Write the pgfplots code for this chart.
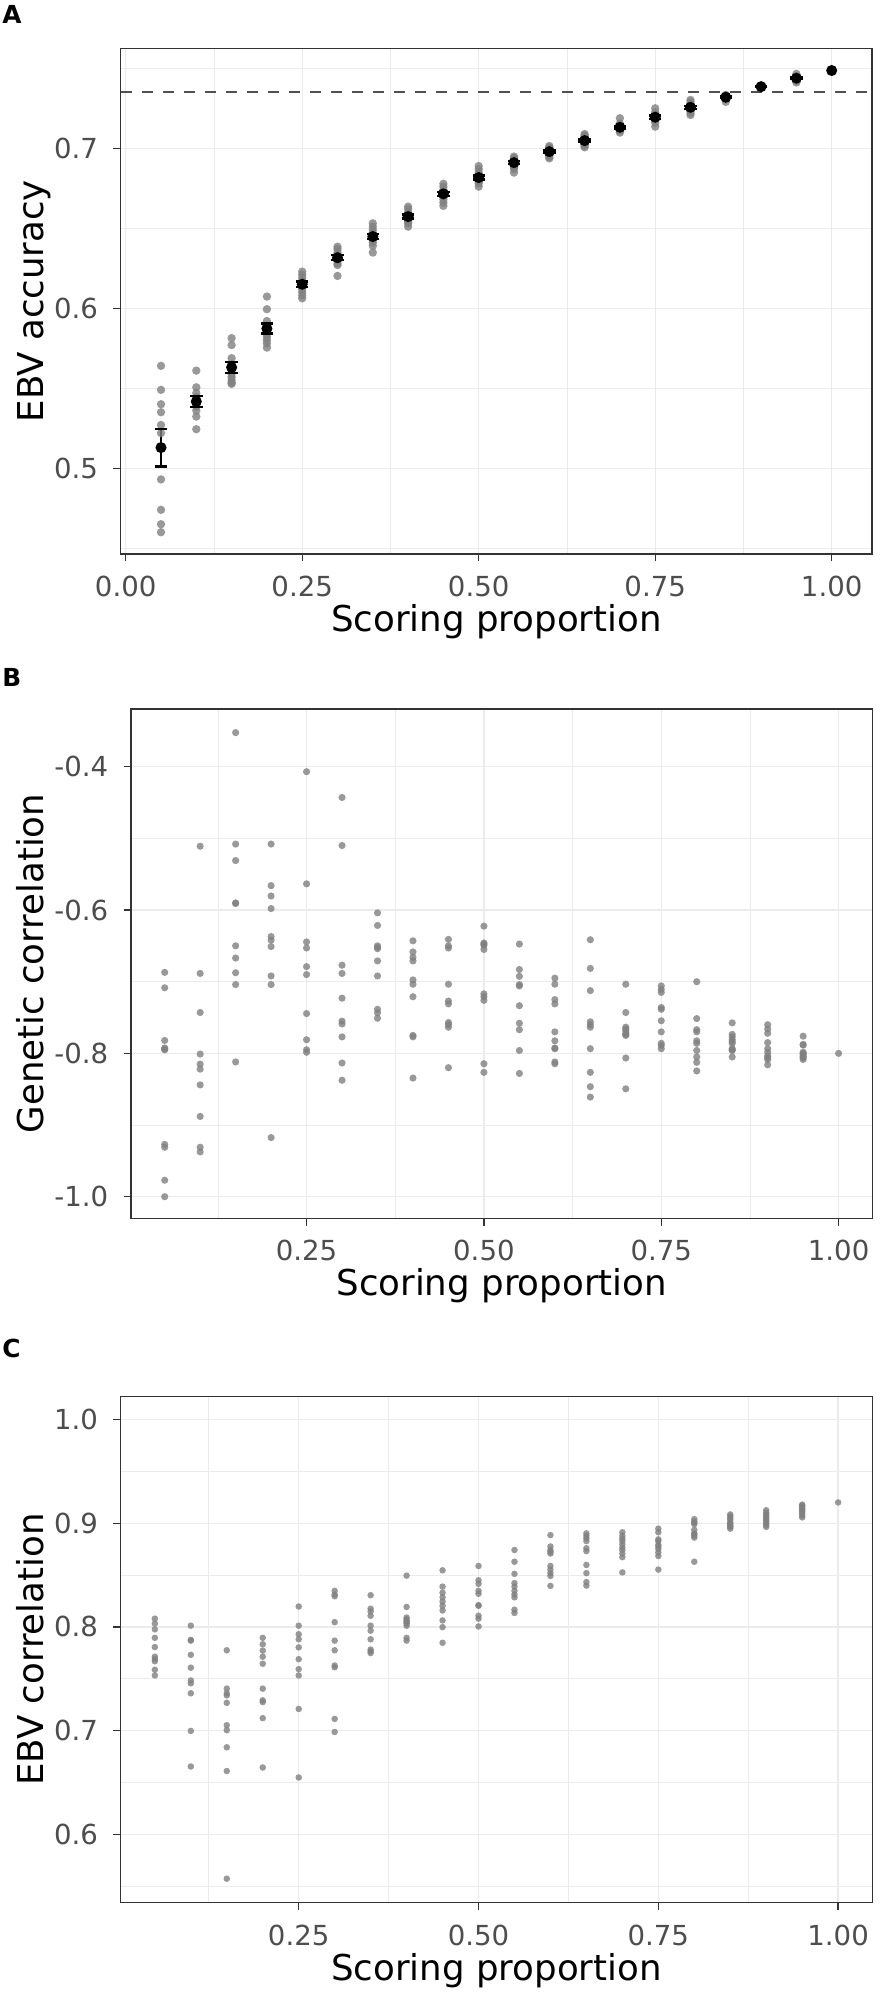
\documentclass[border=0pt]{standalone}
\usepackage{fontspec}
\setmainfont{DejaVu Sans}
\usepackage{pgfplots}
\usepackage{pgfplotstable}
\pgfplotsset{compat=1.18}
\definecolor{g20}{HTML}{333333}
\definecolor{g30}{HTML}{4D4D4D}
\definecolor{g92}{HTML}{EBEBEB}
\definecolor{dashcol}{HTML}{505050}

% Panel A summary: x, mean, SE (scoring proportions with replicates)
\pgfplotstableread{
x m se
0.05 0.5129 0.0118
0.10 0.5417 0.0033
0.15 0.5630 0.0034
0.20 0.5873 0.0031
0.25 0.6150 0.0018
0.30 0.6316 0.0016
0.35 0.6448 0.0017
0.40 0.6573 0.0012
0.45 0.6715 0.0013
0.50 0.6817 0.0012
0.55 0.6910 0.0010
0.60 0.6979 0.0008
0.65 0.7048 0.0008
0.70 0.7131 0.0008
0.75 0.7194 0.0010
0.80 0.7256 0.0010
0.85 0.7319 0.0004
0.90 0.7385 0.0002
0.95 0.7438 0.0005
}\summaryA

\pgfplotsset{
  ggbase/.style={
    scale only axis, anchor=south west,
    axis line style={draw=g20, line width=0.33pt},
    tick pos=left, tick align=outside,
    major tick length=1.83pt, minor tick length=0pt,
    every tick/.style={draw=g20, line width=0.33pt},
    grid=both,
    major grid style={draw=g92, line width=0.35pt},
    minor grid style={draw=g92, line width=0.18pt},
    ticklabel style={font=\fontsize{6.9}{8}\selectfont, text=g30, inner sep=0pt},
    xticklabel style={yshift=-3.5pt},
    yticklabel style={xshift=-3.65pt},
  },
  gpts/.style={only marks, mark=*, mark size=#1,
    mark options={fill=black!50, fill opacity=0.8, draw opacity=0}},
}

\begin{document}
\begin{tikzpicture}[x=1pt,y=1pt]
% ---------------- Panel A ----------------
\begin{axis}[ggbase,
  at={(30.175pt,361.5pt)}, width=187.825pt, height=126.425pt,
  xmin=-0.0071, xmax=1.0571, ymin=0.4464, ymax=0.7625,
  xtick={0,0.25,0.5,0.75,1}, xticklabels={0.00,0.25,0.50,0.75,1.00},
  minor xtick={0.125,0.375,0.625,0.875},
  ytick={0.5,0.6,0.7}, yticklabels={0.5,0.6,0.7},
  minor ytick={0.45,0.55,0.65,0.75},
]
\addplot[dashcol, line width=0.55pt, dash pattern=on 2.75pt off 2.5pt] coordinates {(-0.0071,0.735) (1.0571,0.735)};
\addplot[gpts=1.05pt] coordinates {
(0.05,0.564)(0.05,0.549)(0.05,0.540)(0.05,0.535)(0.05,0.527)(0.05,0.522)(0.05,0.493)(0.05,0.474)(0.05,0.465)(0.05,0.460)
(0.10,0.561)(0.10,0.5506)(0.10,0.547)(0.10,0.5445)(0.10,0.5427)(0.10,0.540)(0.10,0.5385)(0.10,0.536)(0.10,0.5323)(0.10,0.5244)
(0.15,0.5813)(0.15,0.577)(0.15,0.5688)(0.15,0.565)(0.15,0.562)(0.15,0.559)(0.15,0.557)(0.15,0.555)(0.15,0.5535)(0.15,0.5527)
(0.20,0.6073)(0.20,0.5994)(0.20,0.592)(0.20,0.589)(0.20,0.586)(0.20,0.584)(0.20,0.582)(0.20,0.580)(0.20,0.578)(0.20,0.5754)
(0.25,0.6229)(0.25,0.621)(0.25,0.619)(0.25,0.617)(0.25,0.616)(0.25,0.614)(0.25,0.612)(0.25,0.610)(0.25,0.608)(0.25,0.6062)
(0.30,0.6385)(0.30,0.637)(0.30,0.635)(0.30,0.633)(0.30,0.632)(0.30,0.631)(0.30,0.630)(0.30,0.628)(0.30,0.627)(0.30,0.6202)
(0.35,0.6531)(0.35,0.651)(0.35,0.649)(0.35,0.647)(0.35,0.645)(0.35,0.644)(0.35,0.643)(0.35,0.641)(0.35,0.639)(0.35,0.6348)
(0.40,0.6635)(0.40,0.662)(0.40,0.660)(0.40,0.658)(0.40,0.657)(0.40,0.656)(0.40,0.655)(0.40,0.654)(0.40,0.653)(0.40,0.651)
(0.45,0.6778)(0.45,0.676)(0.45,0.674)(0.45,0.673)(0.45,0.672)(0.45,0.671)(0.45,0.670)(0.45,0.668)(0.45,0.666)(0.45,0.664)
(0.50,0.6889)(0.50,0.687)(0.50,0.685)(0.50,0.683)(0.50,0.682)(0.50,0.681)(0.50,0.680)(0.50,0.679)(0.50,0.678)(0.50,0.676)
(0.55,0.6948)(0.55,0.694)(0.55,0.693)(0.55,0.692)(0.55,0.691)(0.55,0.690)(0.55,0.689)(0.55,0.688)(0.55,0.687)(0.55,0.6848)
(0.60,0.7014)(0.60,0.7005)(0.60,0.6995)(0.60,0.6985)(0.60,0.698)(0.60,0.697)(0.60,0.6965)(0.60,0.6955)(0.60,0.6945)(0.60,0.6937)
(0.65,0.7089)(0.65,0.708)(0.65,0.707)(0.65,0.706)(0.65,0.705)(0.65,0.704)(0.65,0.703)(0.65,0.702)(0.65,0.7015)(0.65,0.7006)
(0.70,0.7188)(0.70,0.7155)(0.70,0.714)(0.70,0.7135)(0.70,0.713)(0.70,0.7125)(0.70,0.712)(0.70,0.7115)(0.70,0.711)(0.70,0.7098)
(0.75,0.725)(0.75,0.7225)(0.75,0.721)(0.75,0.720)(0.75,0.7195)(0.75,0.719)(0.75,0.7185)(0.75,0.7175)(0.75,0.716)(0.75,0.7135)
(0.80,0.7302)(0.80,0.729)(0.80,0.7275)(0.80,0.7265)(0.80,0.7255)(0.80,0.725)(0.80,0.7245)(0.80,0.7235)(0.80,0.722)(0.80,0.7208)
(0.85,0.7333)(0.85,0.733)(0.85,0.7325)(0.85,0.732)(0.85,0.732)(0.85,0.7318)(0.85,0.7315)(0.85,0.731)(0.85,0.7305)(0.85,0.729)
(0.90,0.739)(0.90,0.7389)(0.90,0.7388)(0.90,0.7387)(0.90,0.7386)(0.90,0.7385)(0.90,0.7384)(0.90,0.7383)(0.90,0.7381)(0.90,0.7379)
(0.95,0.7465)(0.95,0.745)(0.95,0.7445)(0.95,0.744)(0.95,0.7438)(0.95,0.7435)(0.95,0.743)(0.95,0.7428)(0.95,0.742)(0.95,0.7411)
(1.00,0.7486)
};
% vertical error bars (mean +- SE)
\addplot[only marks, mark=*, mark size=0.01pt, black,
  error bars/.cd, y dir=both, y explicit, error mark=none,
  error bar style={line width=0.6pt, draw=black}]
  table[x=x, y=m, y error=se] {\summaryA};
% caps
\addplot[only marks, mark=-, mark size=1.55pt, mark options={line width=0.6pt, black}]
  table[x=x, y expr=\thisrow{m}+\thisrow{se}] {\summaryA};
\addplot[only marks, mark=-, mark size=1.55pt, mark options={line width=0.6pt, black}]
  table[x=x, y expr=\thisrow{m}-\thisrow{se}] {\summaryA};
% means
\addplot[only marks, mark=*, black, mark size=1.17pt] table[x=x, y=m] {\summaryA};
\addplot[only marks, mark=*, black, mark size=1.17pt] coordinates {(1.00,0.7486)};
\end{axis}

% ---------------- Panel B ----------------
\begin{axis}[ggbase,
  at={(32.75pt,195.425pt)}, width=185.325pt, height=127.325pt,
  xmin=0.0025, xmax=1.0475, ymin=-1.0301, ymax=-0.3195,
  xtick={0.25,0.5,0.75,1}, xticklabels={0.25,0.50,0.75,1.00},
  minor xtick={0.125,0.375,0.625,0.875},
  ytick={-1,-0.8,-0.6,-0.4}, yticklabels={-1.0,-0.8,-0.6,-0.4},
  minor ytick={-0.9,-0.7,-0.5},
]
\addplot[gpts=0.9pt] coordinates {
(0.05,-0.687)(0.05,-0.7085)(0.05,-0.782)(0.05,-0.7925)(0.05,-0.794)(0.05,-0.795)(0.05,-0.927)(0.05,-0.931)(0.05,-0.977)(0.05,-1.0)
(0.10,-0.511)(0.10,-0.6885)(0.10,-0.743)(0.10,-0.801)(0.10,-0.815)(0.10,-0.822)(0.10,-0.844)(0.10,-0.888)(0.10,-0.931)(0.10,-0.9375)
(0.15,-0.3525)(0.15,-0.508)(0.15,-0.531)(0.15,-0.590)(0.15,-0.591)(0.15,-0.650)(0.15,-0.667)(0.15,-0.6875)(0.15,-0.704)(0.15,-0.812)
(0.20,-0.508)(0.20,-0.566)(0.20,-0.5805)(0.20,-0.598)(0.20,-0.637)(0.20,-0.642)(0.20,-0.651)(0.20,-0.692)(0.20,-0.704)(0.20,-0.9175)
(0.25,-0.407)(0.25,-0.5635)(0.25,-0.6445)(0.25,-0.653)(0.25,-0.679)(0.25,-0.690)(0.25,-0.7445)(0.25,-0.781)(0.25,-0.795)(0.25,-0.7985)
(0.30,-0.443)(0.30,-0.510)(0.30,-0.677)(0.30,-0.6885)(0.30,-0.723)(0.30,-0.755)(0.30,-0.759)(0.30,-0.777)(0.30,-0.8135)(0.30,-0.8375)
(0.35,-0.604)(0.35,-0.6215)(0.35,-0.650)(0.35,-0.652)(0.35,-0.654)(0.35,-0.671)(0.35,-0.692)(0.35,-0.7385)(0.35,-0.7435)(0.35,-0.751)
(0.40,-0.643)(0.40,-0.6585)(0.40,-0.666)(0.40,-0.671)(0.40,-0.6975)(0.40,-0.7035)(0.40,-0.721)(0.40,-0.775)(0.40,-0.777)(0.40,-0.8345)
(0.45,-0.641)(0.45,-0.650)(0.45,-0.653)(0.45,-0.7035)(0.45,-0.727)(0.45,-0.731)(0.45,-0.757)(0.45,-0.760)(0.45,-0.7635)(0.45,-0.820)
(0.50,-0.6225)(0.50,-0.646)(0.50,-0.6475)(0.50,-0.649)(0.50,-0.655)(0.50,-0.717)(0.50,-0.721)(0.50,-0.726)(0.50,-0.8145)(0.50,-0.8265)
(0.55,-0.6475)(0.55,-0.683)(0.55,-0.6925)(0.55,-0.704)(0.55,-0.706)(0.55,-0.7335)(0.55,-0.758)(0.55,-0.767)(0.55,-0.796)(0.55,-0.828)
(0.60,-0.695)(0.60,-0.7035)(0.60,-0.725)(0.60,-0.731)(0.60,-0.770)(0.60,-0.7825)(0.60,-0.7925)(0.60,-0.7935)(0.60,-0.812)(0.60,-0.8145)
(0.65,-0.6415)(0.65,-0.6815)(0.65,-0.7125)(0.65,-0.756)(0.65,-0.760)(0.65,-0.7635)(0.65,-0.7935)(0.65,-0.8265)(0.65,-0.8465)(0.65,-0.861)
(0.70,-0.7035)(0.70,-0.743)(0.70,-0.7635)(0.70,-0.766)(0.70,-0.7685)(0.70,-0.772)(0.70,-0.7735)(0.70,-0.775)(0.70,-0.8065)(0.70,-0.8495)
(0.75,-0.706)(0.75,-0.711)(0.75,-0.715)(0.75,-0.736)(0.75,-0.7385)(0.75,-0.7545)(0.75,-0.770)(0.75,-0.786)(0.75,-0.789)(0.75,-0.7935)
(0.80,-0.700)(0.80,-0.7515)(0.80,-0.767)(0.80,-0.770)(0.80,-0.7825)(0.80,-0.786)(0.80,-0.796)(0.80,-0.805)(0.80,-0.8125)(0.80,-0.8245)
(0.85,-0.7575)(0.85,-0.7735)(0.85,-0.777)(0.85,-0.781)(0.85,-0.7835)(0.85,-0.786)(0.85,-0.7935)(0.85,-0.795)(0.85,-0.796)(0.85,-0.805)
(0.90,-0.760)(0.90,-0.766)(0.90,-0.772)(0.90,-0.785)(0.90,-0.7935)(0.90,-0.7985)(0.90,-0.8035)(0.90,-0.806)(0.90,-0.8085)(0.90,-0.816)
(0.95,-0.776)(0.95,-0.7875)(0.95,-0.7885)(0.95,-0.7985)(0.95,-0.800)(0.95,-0.801)(0.95,-0.8035)(0.95,-0.805)(0.95,-0.806)(0.95,-0.8085)
(1.00,-0.800)
};
\end{axis}

% ---------------- Panel C ----------------
\begin{axis}[ggbase,
  at={(30.175pt,24.375pt)}, width=187.9pt, height=126.475pt,
  xmin=0.0025, xmax=1.0475, ymin=0.5342, ymax=1.0222,
  xtick={0.25,0.5,0.75,1}, xticklabels={0.25,0.50,0.75,1.00},
  minor xtick={0.125,0.375,0.625,0.875},
  ytick={0.6,0.7,0.8,0.9,1.0}, yticklabels={0.6,0.7,0.8,0.9,1.0},
  minor ytick={0.55,0.65,0.75,0.85,0.95},
]
\addplot[gpts=0.82pt] coordinates {
(0.05,0.808)(0.05,0.8032)(0.05,0.7977)(0.05,0.7895)(0.05,0.7806)(0.05,0.7713)(0.05,0.769)(0.05,0.7669)(0.05,0.7587)(0.05,0.7532)
(0.10,0.8012)(0.10,0.7875)(0.10,0.7868)(0.10,0.7731)(0.10,0.7607)(0.10,0.7484)(0.10,0.7456)(0.10,0.736)(0.10,0.6997)(0.10,0.6654)
(0.15,0.7775)(0.15,0.7405)(0.15,0.736)(0.15,0.734)(0.15,0.7268)(0.15,0.7052)(0.15,0.7004)(0.15,0.6839)(0.15,0.661)(0.15,0.5571)
(0.20,0.7895)(0.20,0.7833)(0.20,0.7772)(0.20,0.7713)(0.20,0.7645)(0.20,0.7405)(0.20,0.7292)(0.20,0.7275)(0.20,0.712)(0.20,0.6644)
(0.25,0.8197)(0.25,0.8012)(0.25,0.793)(0.25,0.7881)(0.25,0.7803)(0.25,0.7689)(0.25,0.7593)(0.25,0.7532)(0.25,0.7209)(0.25,0.6548)
(0.30,0.8348)(0.30,0.8313)(0.30,0.8296)(0.30,0.8046)(0.30,0.7868)(0.30,0.7775)(0.30,0.7628)(0.30,0.7611)(0.30,0.7113)(0.30,0.6987)
(0.35,0.8306)(0.35,0.8176)(0.35,0.8149)(0.35,0.8108)(0.35,0.8012)(0.35,0.7964)(0.35,0.7881)(0.35,0.7782)(0.35,0.7765)(0.35,0.7748)
(0.40,0.8495)(0.40,0.8193)(0.40,0.809)(0.40,0.8073)(0.40,0.8056)(0.40,0.8046)(0.40,0.8032)(0.40,0.8012)(0.40,0.7895)(0.40,0.7868)
(0.45,0.8546)(0.45,0.8389)(0.45,0.833)(0.45,0.8286)(0.45,0.8245)(0.45,0.8204)(0.45,0.8159)(0.45,0.8063)(0.45,0.7998)(0.45,0.7847)
(0.50,0.8588)(0.50,0.845)(0.50,0.8416)(0.50,0.8348)(0.50,0.832)(0.50,0.821)(0.50,0.8204)(0.50,0.8108)(0.50,0.808)(0.50,0.8005)
(0.55,0.8742)(0.55,0.8629)(0.55,0.8512)(0.55,0.8423)(0.55,0.8389)(0.55,0.8348)(0.55,0.8313)(0.55,0.8286)(0.55,0.8166)(0.55,0.8135)
(0.60,0.8886)(0.60,0.8776)(0.60,0.8742)(0.60,0.8725)(0.60,0.8708)(0.60,0.8588)(0.60,0.8553)(0.60,0.8519)(0.60,0.8492)(0.60,0.8396)
(0.65,0.8903)(0.65,0.8879)(0.65,0.8855)(0.65,0.8828)(0.65,0.8759)(0.65,0.8732)(0.65,0.8598)(0.65,0.8519)(0.65,0.8433)(0.65,0.8399)
(0.70,0.8913)(0.70,0.8879)(0.70,0.8852)(0.70,0.8828)(0.70,0.8797)(0.70,0.8766)(0.70,0.8742)(0.70,0.8708)(0.70,0.8673)(0.70,0.8526)
(0.75,0.8948)(0.75,0.8913)(0.75,0.8845)(0.75,0.8828)(0.75,0.8793)(0.75,0.8776)(0.75,0.8752)(0.75,0.8718)(0.75,0.8684)(0.75,0.8553)
(0.80,0.904)(0.80,0.9016)(0.80,0.9006)(0.80,0.8992)(0.80,0.8937)(0.80,0.8903)(0.80,0.8896)(0.80,0.8879)(0.80,0.8862)(0.80,0.8629)
(0.85,0.9085)(0.85,0.9068)(0.85,0.905)(0.85,0.9033)(0.85,0.9006)(0.85,0.8999)(0.85,0.8982)(0.85,0.8972)(0.85,0.8965)(0.85,0.8948)
(0.90,0.9126)(0.90,0.9102)(0.90,0.9085)(0.90,0.9068)(0.90,0.905)(0.90,0.9033)(0.90,0.9016)(0.90,0.8999)(0.90,0.8982)(0.90,0.8965)
(0.95,0.918)(0.95,0.917)(0.95,0.9163)(0.95,0.9146)(0.95,0.9136)(0.95,0.9129)(0.95,0.9112)(0.95,0.9095)(0.95,0.9074)(0.95,0.9057)
(1.00,0.9201)
};
\end{axis}

% ---------------- Titles and panel labels ----------------
\begin{scope}[every node/.style={inner sep=0pt}]
\node[anchor=base west, font=\bfseries\fontsize{6.2}{7}\selectfont] at (0.4pt,494.2pt) {A};
\node[anchor=base west, font=\bfseries\fontsize{6.2}{7}\selectfont] at (0.4pt,328.25pt) {B};
\node[anchor=base west, font=\bfseries\fontsize{6.2}{7}\selectfont] at (0.4pt,160.5pt) {C};

\node[rotate=90, anchor=base, font=\fontsize{8.9}{10}\selectfont] at (10.75pt,424.71pt) {EBV accuracy};
\node[rotate=90, anchor=base, font=\fontsize{8.9}{10}\selectfont] at (10.75pt,259.09pt) {Genetic correlation};
\node[rotate=90, anchor=base, font=\fontsize{8.9}{10}\selectfont] at (10.75pt,87.61pt) {EBV correlation};

\node[anchor=base, font=\fontsize{8.9}{10}\selectfont] at (124.09pt,342.175pt) {Scoring proportion};
\node[anchor=base, font=\fontsize{8.9}{10}\selectfont] at (125.41pt,176.1pt) {Scoring proportion};
\node[anchor=base, font=\fontsize{8.9}{10}\selectfont] at (124.125pt,5.0pt) {Scoring proportion};
\end{scope}

\pgfresetboundingbox
\useasboundingbox (0,0) rectangle (221.5pt,500pt);
\end{tikzpicture}
\end{document}
